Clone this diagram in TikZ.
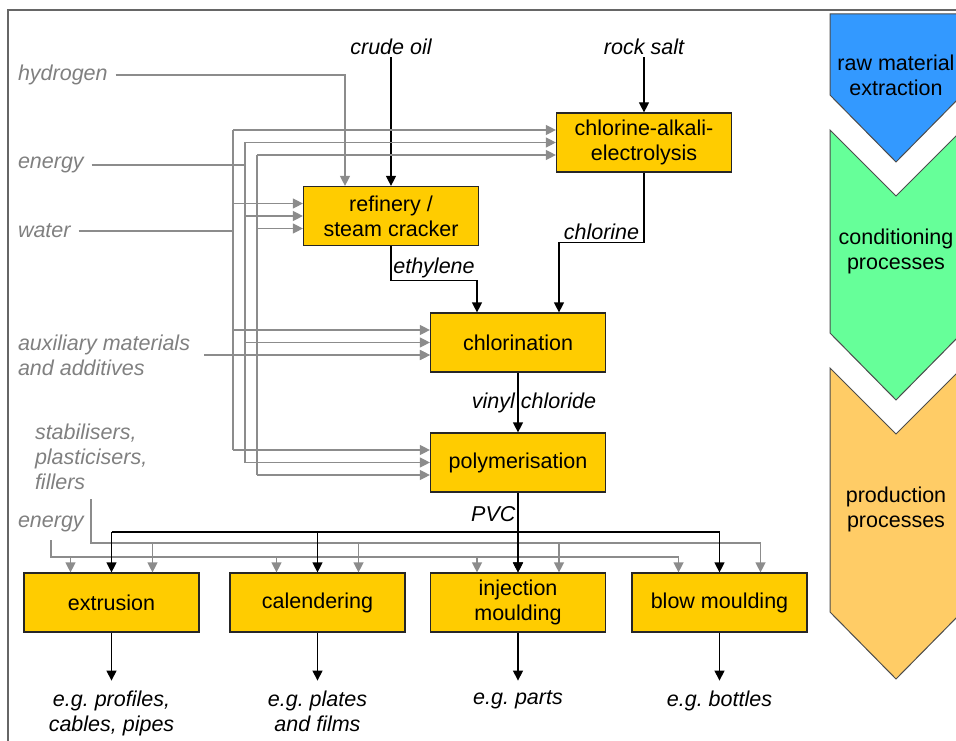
\documentclass[tikz,border=0pt]{standalone}
\usepackage{fontspec}
\setmainfont{Liberation Sans}
\usetikzlibrary{arrows.meta, positioning, calc}
\definecolor{procyellow}{HTML}{FFCC00}
\definecolor{inputgray}{HTML}{808080}
\definecolor{feedgray}{HTML}{8C8C8C}
\definecolor{rawblue}{HTML}{3399FF}
\definecolor{condgreen}{HTML}{66FF99}
\definecolor{prodorange}{HTML}{FFCC66}
\newcommand{\diagfont}{\fontsize{21.5}{25}\selectfont}
\frenchspacing

\begin{document}
\begin{tikzpicture}[
  x=1pt, y=-1pt,
  font=\diagfont,
  proc/.style={draw=black!85, line width=1.2pt, fill=procyellow, align=center,
               minimum width=175pt, minimum height=59pt, inner sep=2pt},
  inlab/.style={text=inputgray, font=\diagfont\itshape, align=left,
                inner sep=2pt, outer sep=6pt, anchor=west},
  lab/.style={font=\diagfont\itshape, align=center, inner sep=2pt},
  stage/.style={draw=black!70, line width=1pt},
  feed/.style={draw=feedgray, line width=1.3pt},
  flow/.style={draw=black, line width=1.2pt},
  >={Triangle[length=10pt, width=10pt]}]
\useasboundingbox (0,0) rectangle (956,741);
% frame
\draw[draw=black!60, line width=1.5pt] (8,745) -- (8,10) -- (960,10);

% stages on the right
\draw[stage, fill=rawblue] (830,14) -- (962,14) -- (962,95) -- (896,162) -- (830,95) -- cycle;
\draw[stage, fill=condgreen] (830,130) -- (896,196) -- (962,130) -- (962,333) -- (896,400) -- (830,333) -- cycle;
\draw[stage, fill=prodorange] (830,368) -- (896,434) -- (962,368) -- (962,612) -- (896,679) -- (830,612) -- cycle;
\node[align=center] (raw) at (896,75) {raw material\\extraction};
\node[align=center] (cond) at (896,251) {conditioning\\processes};
\node[align=center] (prodn) at (896,509) {production\\processes};

% processes
\node[proc] (ref) at (391,216) {refinery /\\steam cracker};
\node[proc] (alk) at (644,142.5) {chlorine-alkali-\\electrolysis};
\node[proc] (chl) at (518,342.5) {chlorination};
\node[proc] (pol) at (518,462.5) {polymerisation};
\node[proc] (ext) at (111.5,602.5) {extrusion};
\node[proc] (cal) at (317.5,602.5) {calendering};
\node[proc] (inj) at (518,602.5) {injection\\moulding};
\node[proc] (blow) at (719.5,602.5) {blow moulding};

% inputs
\node[lab] (crude) at (391,47) {crude oil};
\node[lab] (salt) at (644,47) {rock salt};
\node[inlab] (hyd) at (10,75) {hydrogen};
\node[inlab] (en1) at (10,165) {energy};
\node[inlab] (wat) at (10,231) {water};
\node[inlab] (aux) at (10,355) {auxiliary materials\\and additives};
\node[inlab] (stab) at (27,457) {stabilisers,\\plasticisers,\\fillers};
\node[inlab] (en2) at (10,524) {energy};

% products
\node[lab, below=56pt of ext] (o1) {e.g. profiles,\\cables, pipes};
\node[lab, below=56pt of cal] (o2) {e.g. plates\\and films};
\node[lab, below=56pt of inj] (o3) {e.g. parts};
\node[lab, below=56pt of blow] (o4) {e.g. bottles};

% main chain
\draw[flow,->] (crude) -- (ref);
\draw[flow,->] (salt) -- (alk);
\draw[flow,->] (ref.south) -- ++(0,34) -| node[lab, above, pos=0.25] (eth) {ethylene} ([xshift=-41pt]chl.north);
\draw[flow,->] (alk.south) -- ++(0,70) -| node[lab, above, pos=0.25] (clg) {chlorine} ([xshift=41pt]chl.north);
\draw[flow,->] (chl) -- node[lab, xshift=16pt] (vc) {vinyl chloride} (pol);
\draw[flow,->] (pol) -- node[lab, pos=0.27, left] (pvc) {PVC} (inj);
\foreach \b/\o in {ext/o1, cal/o2, inj/o3, blow/o4}
  \draw[flow,->, shorten >=8pt] (\b) -- (\o);

% utilities to the conditioning steps
\foreach \bx [count=\i] in {233,245,257} \coordinate (bus\i) at (\bx,0);
\draw[feed,->] (hyd) -| ([xshift=-46pt]ref.north);
\draw[feed] (en1) -- (en1 -| bus2);
\draw[feed] (wat) -- (wat -| bus1);
\foreach \i in {1,2,3} {
  \pgfmathsetmacro\s{(2-\i)*12.5}
  \coordinate (ta) at ([yshift=\s pt]alk.west);
  \coordinate (tr) at ([yshift=\s pt]ref.west);
  \coordinate (tc) at ([yshift=\s pt]chl.west);
  \coordinate (tp) at ([yshift=\s pt]pol.west);
  \draw[feed] (ta -| bus\i) -- (tp -| bus\i);
  \foreach \t in {ta,tr,tc,tp}
    \draw[feed,->] (\t -| bus\i) -- (\t);
}
\draw[feed,->, shorten <=6pt] (aux) -- (aux -| chl.west);

% feeds to the production steps
\coordinate (pbus) at (0,532);
\coordinate (sbus) at (0,543);
\coordinate (ebus) at (0,557);
\coordinate (s0) at (91,499);
\coordinate (send) at ([xshift=41pt]blow.north);
\coordinate (eend) at ([xshift=-41pt]blow.north);
\draw[flow] (ext.north |- pbus) -- (blow.north |- pbus);
\draw[feed] (s0) |- (send |- sbus);
\draw[feed] (en2) |- (eend |- ebus);
\foreach \b in {ext,cal,inj,blow} {
  \coordinate (bl) at ([xshift=-41pt]\b.north);
  \coordinate (br) at ([xshift=41pt]\b.north);
  \draw[feed,->] (bl |- ebus) -- (bl);
  \draw[feed,->] (br |- sbus) -- (br);
  \draw[flow,->] (\b.north |- pbus) -- (\b.north);
}
\end{tikzpicture}
\end{document}
